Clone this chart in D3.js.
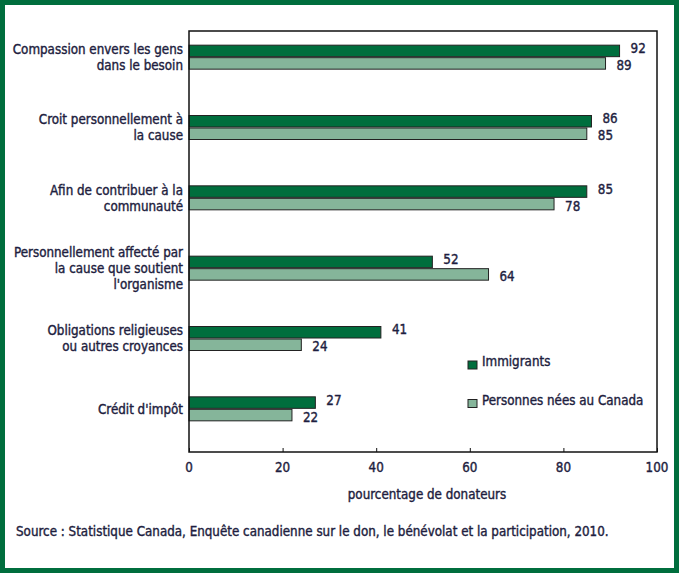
<!DOCTYPE html>
<html><head><meta charset="utf-8">
<script src="https://cdn.jsdelivr.net/npm/d3@7"></script>
<style>
html,body{margin:0;padding:0;background:#fff;}
text{font-family:"DejaVu Sans Condensed","DejaVu Sans",sans-serif;font-stretch:condensed;font-weight:normal;fill:#1e1e40;stroke:#1e1e40;stroke-width:0.4px;}
</style></head>
<body>
<svg id="chart" width="679" height="573"></svg>
<script>
const categories = [
  ["Compassion envers les gens", "dans le besoin"],
  ["Croit personnellement à", "la cause"],
  ["Afin de contribuer à la", "communauté"],
  ["Personnellement affecté par", "la cause que soutient", "l'organisme"],
  ["Obligations religieuses", "ou autres croyances"],
  ["Crédit d'impôt"]
];
const immigrants = [92, 86, 85, 52, 41, 27];
const nesCanada = [89, 85, 78, 64, 24, 22];
const seriesNames = ["Immigrants", "Personnes nées au Canada"];
const xTicks = [0, 20, 40, 60, 80, 100];
const xTitle = "pourcentage de donateurs";
const source = "Source : Statistique Canada, Enquête canadienne sur le don, le bénévolat et la participation, 2010.";

const dark = "#006e3d", light = "#85b59a", frame = "#006e3d";
const FS = 13.8;
const svg = d3.select("#chart");
svg.append("rect").attr("x",2.5).attr("y",2.5).attr("width",674).attr("height",568)
  .attr("fill","#fff").attr("stroke",frame).attr("stroke-width",5);

// measure horizontal compression so the condensed font matches the reference width
const probe = svg.append("text").attr("font-size",FS).text(source);
const SX = 593 / probe.node().getComputedTextLength();
probe.remove();

function label(x, y, str, anchor){
  return svg.append("text")
    .attr("transform",`translate(${x},${y}) scale(${SX},1)`)
    .attr("text-anchor",anchor||"start").attr("dy","0.35em")
    .attr("font-size",FS).text(str);
}

const L = 189, R = 657, T = 31, B = 452;
const x = d3.scaleLinear().domain([0,100]).range([L,R]);
const y = d3.scaleBand().domain(d3.range(categories.length)).range([22,444]);
const bh = 11.5;

categories.forEach((lines,i)=>{
  const cy = y(i)+y.bandwidth()/2;
  svg.append("rect").attr("x",x(0)).attr("y",cy-bh-0.5).attr("width",x(immigrants[i])-x(0)).attr("height",bh)
    .attr("fill",dark).attr("stroke","#222").attr("stroke-width",1);
  svg.append("rect").attr("x",x(0)).attr("y",cy+0.5).attr("width",x(nesCanada[i])-x(0)).attr("height",bh)
    .attr("fill",light).attr("stroke","#222").attr("stroke-width",1);
  label(x(immigrants[i])+11, cy-9, immigrants[i]);
  label(x(nesCanada[i])+11, cy+8, nesCanada[i]);
  const lh = 16;
  lines.forEach((ln,j)=>{
    label(183, cy + (j-(lines.length-1)/2)*lh, ln, "end");
  });
});

// plot box
svg.append("rect").attr("x",L).attr("y",T).attr("width",R-L).attr("height",B-T)
  .attr("fill","none").attr("stroke","#111").attr("stroke-width",1.5);

const ax = svg.append("g").attr("transform",`translate(0,${B})`)
  .call(d3.axisBottom(x).tickValues(xTicks).tickSizeInner(-4).tickSizeOuter(0).tickFormat(""));
ax.select(".domain").remove();
ax.selectAll("line").attr("stroke","#111");
xTicks.forEach(v=>label(x(v), 467, v, "middle"));

label(427, 494, xTitle, "middle");
label(16, 531, source);

// legend
const leg = [[dark, 364.5],[light, 403]];
leg.forEach(([c,ly],i)=>{
  svg.append("rect").attr("x",468).attr("y",ly-3.5).attr("width",9).attr("height",8)
    .attr("fill",c).attr("stroke","#222").attr("stroke-width",1);
  label(482, ly-3, seriesNames[i]);
});
</script>
</body></html>
